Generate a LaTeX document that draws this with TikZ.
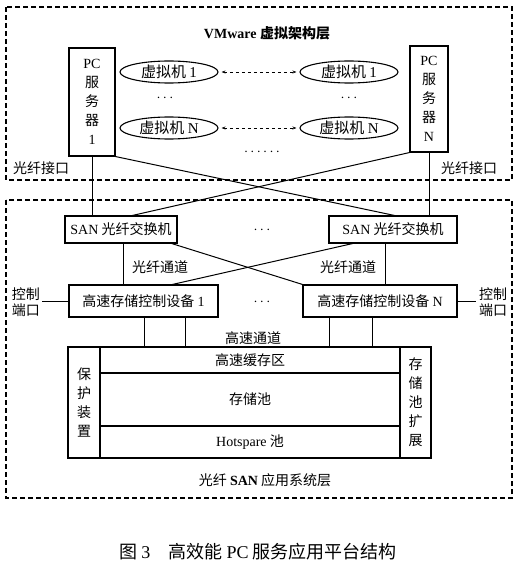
\documentclass[tikz,border=0pt]{standalone}
\usepackage{fontspec}
\setmainfont{Liberation Serif}
\newfontfamily\cjk{Noto Sans CJK SC}
\usetikzlibrary{shapes.geometric,arrows.meta}
\begin{document}
\begin{tikzpicture}[x=1pt,y=-1pt,line width=1pt,
 layer/.style={draw,dash pattern=on 5pt off 3pt,line width=1.1pt},
 box/.style={draw,line width=1.1pt,inner sep=0pt,font=\cjk\fontsize{14}{19}\selectfont,align=center},
 vm/.style={draw,ellipse,line width=1.1pt,minimum width=98pt,minimum height=22pt,inner sep=0pt,font=\cjk\fontsize{15}{15}\selectfont},
 lbl/.style={font=\cjk\fontsize{14}{16}\selectfont,align=center,inner sep=0pt},
 link/.style={line width=1pt},
 vmlink/.style={dashed,line width=0.8pt,{Stealth[length=4pt]}-{Stealth[length=4pt]},shorten <=3pt,shorten >=3pt}]
\useasboundingbox (0,0) rectangle (519,572);
\fill[white] (0,0) rectangle (519,572);
% layers
\draw[layer] (6,7) rectangle (512,180);
\draw[layer] (6,200) rectangle (512,498);
\node[lbl] (vmtitle) at (267,33) {\bfseries\rmfamily VMware \cjk 虚拟架构层};
% PC servers
\node[box,minimum width=46pt,minimum height=108pt] (pc1) at (92,102) {{\rmfamily PC}\\服\\务\\器\\{\rmfamily 1}};
\node[box,minimum width=38pt,minimum height=106pt] (pcn) at (429,99) {{\rmfamily PC}\\服\\务\\器\\{\rmfamily N}};
% VMs
\node[vm] (v1l) at (169,72) {虚拟机 {\rmfamily 1}};
\node[vm] (vnl) at (169,128) {虚拟机 {\rmfamily N}};
\node[vm] (v1r) at (349,72) {虚拟机 {\rmfamily 1}};
\node[vm] (vnr) at (349,128) {虚拟机 {\rmfamily N}};
\draw[vmlink] (v1l.east) -- (v1r.west);
\draw[vmlink] (vnl.east) -- (vnr.west);
\node[lbl] (dl) at (165,98) {$\cdots$};
\node[lbl] (dr) at (349,98) {$\cdots$};
\node[lbl] (dm) at (262,152) {$\cdots\cdots$};
\node[lbl] (fi1) at (41,168) {光纤接口};
\node[lbl] (fi2) at (469,168) {光纤接口};
% SAN switches
\node[box,minimum width=112pt,minimum height=27pt] (sanl) at (121,229.5) {{\rmfamily SAN} 光纤交换机};
\node[box,minimum width=128pt,minimum height=27pt] (sanr) at (393,229.5) {{\rmfamily SAN} 光纤交换机};
\node[lbl] (ds) at (262,230) {$\cdots$};
\coordinate (sanlA) at (130,216);
\coordinate (sanrA) at (397,216);
\draw[link] (pc1.south) -- (pc1.south |- sanl.north);
\draw[link] (pcn.south) -- (pcn.south |- sanr.north);
\draw[link] (pc1.south east) -- (sanrA);
\draw[link] (pcn.south west) -- (sanlA);
% controllers
\node[box,minimum width=149pt,minimum height=32pt] (cl) at (143.5,301) {高速存储控制设备 {\rmfamily 1}};
\node[box,minimum width=154pt,minimum height=32pt] (cr) at (380,301) {高速存储控制设备 {\rmfamily N}};
\node[lbl] (dc) at (262,302) {$\cdots$};
\coordinate (sanlB) at (170,243);
\coordinate (sanrB) at (355,243);
\coordinate (clA) at (170,285);
\draw[link] (123,243) -- (123,285);
\draw[link] (385,243) -- (385,285);
\draw[link] (sanlB) -- (cr.north west);
\draw[link] (sanrB) -- (clA);
\node[lbl] (fc1) at (160,267) {光纤通道};
\node[lbl] (fc2) at (348,267) {光纤通道};
\node[lbl] (cp1) at (26,302) {控制\\端口};
\node[lbl] (cp2) at (493,302) {控制\\端口};
\draw[link] (42,301) -- (cl.west);
\draw[link] (cr.east) -- (476,301);
% storage
\node[box,minimum width=32pt,minimum height=111pt] (prot) at (84,402.5) {保\\护\\装\\置};
\node[box,minimum width=31pt,minimum height=111pt] (ext) at (415.5,402.5) {存\\储\\池\\扩\\展};
\node[box,minimum width=300pt,minimum height=26pt] (cache) at (250,360) {高速缓存区};
\node[box,minimum width=300pt,minimum height=53pt] (pool) at (250,399.5) {存储池};
\node[box,minimum width=300pt,minimum height=32pt] (hot) at (250,442) {{\rmfamily Hotspare} 池};
\draw[link] (144,317) -- (144,347);
\draw[link] (185,317) -- (185,347);
\draw[link] (329,317) -- (329,347);
\draw[link] (372,317) -- (372,347);
\node[lbl] (hs) at (253,338) {高速通道};
\node[lbl] (sanlayer) at (265,480) {光纤 {\rmfamily\bfseries SAN} 应用系统层};
\node[lbl,font=\cjk\fontsize{18}{20}\selectfont] (cap) at (258,552) {图 {\rmfamily 3}\quad 高效能 {\rmfamily PC} 服务应用平台结构};
\end{tikzpicture}
\end{document}
